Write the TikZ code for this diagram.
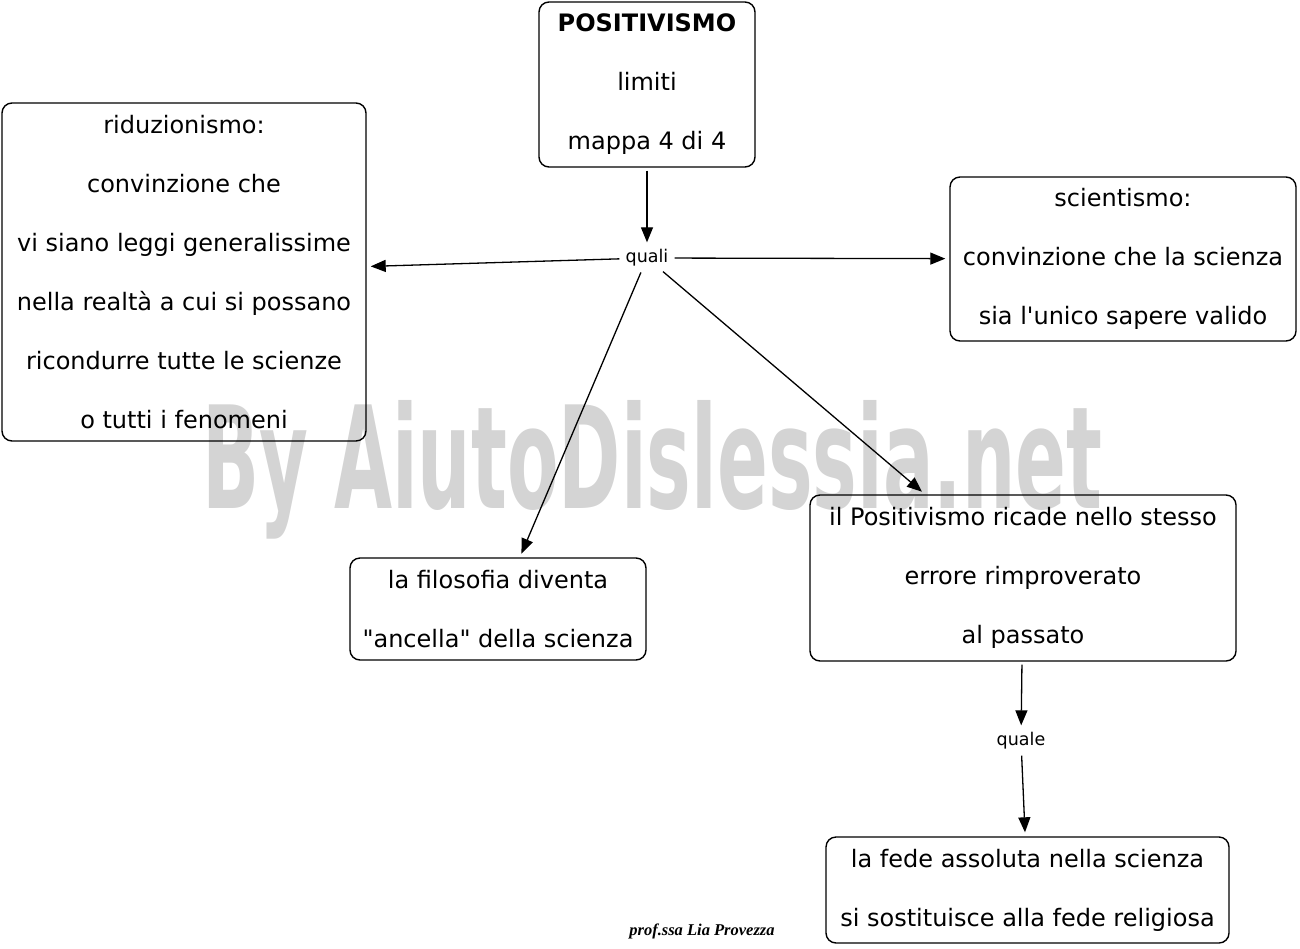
\documentclass[tikz,border=0pt]{standalone}
\usepackage{graphicx}
\usepackage{fontspec}
\setmainfont{DejaVu Sans}[Ligatures=TeXOff]
\newfontfamily\markfont{DejaVu Sans Condensed}
\newfontfamily\signfont{Liberation Serif}
\usetikzlibrary{arrows.meta}

\begin{document}
\begin{tikzpicture}[x=1pt, y=-1pt,
    box/.style={draw, line width=1.4pt, rounded corners=10pt, align=center, inner sep=0pt,
      font=\fontsize{24}{59}\selectfont},
    link/.style={font=\fontsize{17.5}{20}\selectfont, inner sep=3pt},
    arr/.style={line width=1.3pt, -{Triangle[length=15pt, width=12pt]}, shorten >=4pt, shorten <=3pt}]
    \useasboundingbox (0, 0) rectangle (1300, 948);

    % Watermark
    \node [anchor=base west, inner sep=0pt, text=black!17] (mark) at (202, 508)
      {\resizebox{900pt}{108pt}{\markfont\bfseries By AiutoDislessia.net}};

    % Boxes
    \node [box, minimum width=216pt, minimum height=165pt] (posit) at (647, 84.5)
      {\textbf{POSITIVISMO}\\ limiti\\ mappa 4 di 4};
    \node [link] (quali) at (647, 258) {quali};
    \node [box, minimum width=364pt, minimum height=338pt] (ridu) at (184, 272)
      {riduzionismo:\\ convinzione che\\ vi siano leggi generalissime\\ nella realtà a cui si possano\\ ricondurre tutte le scienze\\ o tutti i fenomeni};
    \node [box, minimum width=346pt, minimum height=164pt] (scien) at (1123, 259)
      {scientismo:\\ convinzione che la scienza\\ sia l'unico sapere valido};
    \node [box, minimum width=296pt, minimum height=102pt] (filo) at (498, 609)
      {la filosofia diventa\\ "ancella" della scienza};
    \node [box, minimum width=426pt, minimum height=166pt] (ricade) at (1023, 578)
      {il Positivismo ricade nello stesso\\ errore rimproverato\\ al passato};
    \node [link] (quale) at (1021, 741) {quale};
    \node [box, minimum width=403pt, minimum height=106pt] (fede) at (1027.5, 890)
      {la fede assoluta nella scienza\\ si sostituisce alla fede religiosa};

    \node [font=\signfont\bfseries\itshape\fontsize{16.5}{18}\selectfont] (firma) at (702, 931)
      {prof.ssa Lia Provezza};

    % Arrows
    \draw [arr] (posit) -- (quali);
    \draw [arr] (quali) -- (ridu);
    \draw [arr] (quali) -- (scien);
    \draw [arr] (quali) -- (filo);
    \draw [arr] (quali) -- (ricade);
    \draw [arr] (ricade) -- (quale);
    \draw [arr] (quale) -- (fede);
  \end{tikzpicture}
\end{document}
